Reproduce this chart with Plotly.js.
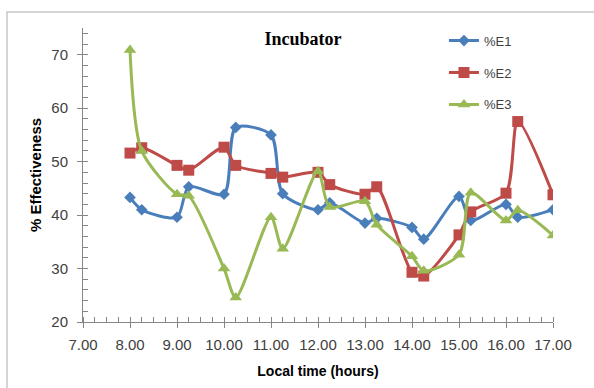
<!DOCTYPE html>
<html>
<head>
<meta charset="utf-8">
<script src="https://cdn.plot.ly/plotly-3.0.1.min.js"></script>
<style>html,body{margin:0;padding:0;background:#fff;}#chart{width:594px;height:388px;}</style>
</head>
<body>
<div id="chart"></div>
<script>
// Local time (hours)
const times = [8.00, 8.25, 9.00, 9.25, 10.00, 10.25, 11.00, 11.25, 12.00, 12.25, 13.00, 13.25, 14.00, 14.25, 15.00, 15.25, 16.00, 16.25, 17.00];
const seriesNames = ['%E1', '%E2', '%E3'];
const e1 = [43.3, 41.0, 39.6, 45.3, 43.9, 56.4, 55.0, 44.0, 41.0, 42.3, 38.5, 39.4, 37.7, 35.5, 43.5, 39.0, 42.0, 39.6, 41.0];
const e2 = [51.6, 52.6, 49.3, 48.4, 52.7, 49.3, 47.8, 47.1, 48.0, 45.7, 43.9, 45.3, 29.3, 28.6, 36.3, 40.6, 44.1, 57.5, 43.8];
const e3 = [70.9, 52.0, 43.9, 43.6, 30.0, 24.6, 39.6, 33.7, 48.2, 41.5, 42.6, 38.2, 32.3, 29.6, 32.6, 44.2, 39.0, 40.9, 36.2];
const xTickVals = [7, 8, 9, 10, 11, 12, 13, 14, 15, 16, 17];
const xTickText = ['7.00', '8.00', '9.00', '10.00', '11.00', '12.00', '13.00', '14.00', '15.00', '16.00', '17.00'];
const yTickVals = [20, 30, 40, 50, 60, 70];

const colors = ['#4a7ebb', '#be4b48', '#98b954'];
const symbols = ['diamond', 'square', 'triangle-up'];
const sizes = [9, 11, 11];
const data = [e1, e2, e3].map((ys, i) => ({
  type: 'scatter', mode: 'lines+markers', name: seriesNames[i],
  x: times, y: ys, legendgroup: 'g' + i,
  line: {color: colors[i], width: 3, shape: 'spline', smoothing: 0.75},
  marker: {color: colors[i], symbol: symbols[i], size: sizes[i]}
}));

const axisColor = '#868686';
const tickFont = {family: 'Liberation Sans, Arial, sans-serif', size: 15, color: '#404040'};
const layout = {
  width: 594, height: 388,
  margin: {l: 83, r: 41, t: 28, b: 66},
  paper_bgcolor: '#ffffff', plot_bgcolor: '#ffffff',
  showlegend: true,
  title: {text: '<b>Incubator</b>', font: {family: 'Liberation Serif, Times New Roman, serif', size: 18, color: '#000'},
          x: 0.468, xref: 'paper', xanchor: 'center', y: 0.9, yref: 'container', yanchor: 'middle'},
  legend: {x: 0.768, y: 1.008, xanchor: 'left', yanchor: 'top', tracegroupgap: 12,
           font: {family: 'Liberation Sans, Arial, sans-serif', size: 13, color: '#404040'}, bgcolor: 'rgba(0,0,0,0)'},
  xaxis: {range: [7, 17], tickvals: xTickVals, ticktext: xTickText, showgrid: false, zeroline: false,
          showline: true, linecolor: axisColor, linewidth: 1, ticks: 'outside', ticklen: 5, tickcolor: axisColor,
          tickfont: tickFont, ticklabelstandoff: 4,
          minor: {dtick: 0.25, tick0: 7, ticks: 'inside', ticklen: 5, tickcolor: axisColor, showgrid: false},
          title: {text: '<b>Local time (hours)</b>', font: {family: 'Liberation Sans, Arial, sans-serif', size: 14, color: '#000'}, standoff: 14}},
  yaxis: {range: [20, 75], tickvals: yTickVals, showgrid: false, zeroline: false,
          showline: true, linecolor: axisColor, linewidth: 1, ticks: 'outside', ticklen: 5, tickcolor: axisColor,
          tickfont: tickFont, ticklabelstandoff: 6,
          minor: {dtick: 2, tick0: 20, ticks: 'inside', ticklen: 5, tickcolor: axisColor, showgrid: false},
          title: {text: '<b>% Effectiveness</b>', font: {family: 'Liberation Sans, Arial, sans-serif', size: 15, color: '#000'}, standoff: 6}},
  shapes: [{type: 'rect', xref: 'paper', yref: 'paper', x0: -0.1617, x1: 1.2, y0: -0.4, y1: 1.0544,
            line: {color: '#c8c8c8', width: 1.5}, fillcolor: 'rgba(0,0,0,0)', layer: 'below'}]
};
Plotly.newPlot('chart', data, layout, {displayModeBar: false, staticPlot: true});
</script>
</body>
</html>
